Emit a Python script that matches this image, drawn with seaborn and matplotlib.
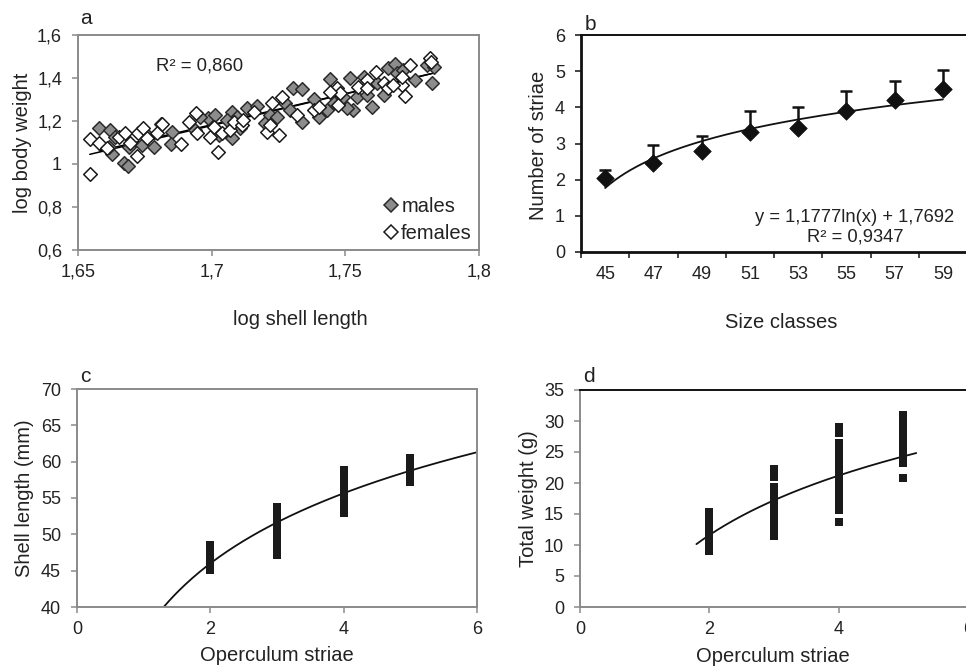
import numpy as np
import pandas as pd
import matplotlib
matplotlib.use("Agg")
import matplotlib.pyplot as plt
from matplotlib.ticker import FuncFormatter, FixedLocator
import seaborn as sns

sns.set_style("ticks")
plt.rcParams['font.family'] = ['Liberation Sans', 'DejaVu Sans']

# ---- panel a: log shell length vs log body weight ----
males_x = [1.6580, 1.6621, 1.6627, 1.6615, 1.6673, 1.6686, 1.6689, 1.6739, 1.6783, 1.6810,
           1.6851, 1.6848, 1.6939, 1.6988, 1.7013, 1.7026, 1.7076, 1.7076, 1.7094, 1.7132,
           1.7169, 1.7200, 1.7219, 1.7244, 1.7275, 1.7306, 1.7337, 1.7337, 1.7381, 1.7400,
           1.7431, 1.7443, 1.7456, 1.7493, 1.7518, 1.7530, 1.7543, 1.7568, 1.7580, 1.7599,
           1.7618, 1.7661, 1.7686, 1.7692, 1.7717, 1.7761, 1.7805, 1.7823, 1.7830, 1.6640,
           1.6758, 1.6957, 1.7057, 1.7294, 1.7643, 1.7506, 1.7107]
males_y = [1.169, 1.158, 1.047, 1.081, 1.003, 0.992, 1.081, 1.088, 1.081, 1.186,
           1.150, 1.091, 1.158, 1.212, 1.228, 1.135, 1.119, 1.243, 1.220, 1.262,
           1.270, 1.189, 1.228, 1.220, 1.282, 1.352, 1.347, 1.197, 1.301, 1.220,
           1.251, 1.395, 1.282, 1.313, 1.398, 1.251, 1.313, 1.406, 1.321, 1.264,
           1.375, 1.445, 1.464, 1.422, 1.437, 1.391, 1.460, 1.375, 1.453, 1.127,
           1.135, 1.220, 1.205, 1.251, 1.321, 1.259, 1.166]
females_x = [1.6544, 1.6544, 1.6577, 1.6608, 1.6652, 1.6677, 1.6696, 1.6721, 1.6724, 1.6745,
             1.6758, 1.6795, 1.6814, 1.6886, 1.6914, 1.6942, 1.6945, 1.6992, 1.7007, 1.7022,
             1.7038, 1.7069, 1.7082, 1.7113, 1.7119, 1.7207, 1.7219, 1.7250, 1.7225, 1.7263,
             1.7319, 1.7381, 1.7400, 1.7468, 1.7474, 1.7481, 1.7549, 1.7580, 1.7580, 1.7615,
             1.7643, 1.7661, 1.7711, 1.7724, 1.7742, 1.7711, 1.7817, 1.7820, 1.7157, 1.7680,
             1.7443]
females_y = [1.115, 0.953, 1.099, 1.073, 1.127, 1.143, 1.096, 1.037, 1.143, 1.166,
             1.119, 1.143, 1.184, 1.093, 1.197, 1.236, 1.143, 1.127, 1.174, 1.057,
             1.146, 1.158, 1.197, 1.181, 1.205, 1.150, 1.181, 1.135, 1.282, 1.313,
             1.228, 1.251, 1.267, 1.352, 1.274, 1.332, 1.360, 1.391, 1.352, 1.429,
             1.375, 1.352, 1.367, 1.316, 1.460, 1.406, 1.491, 1.476, 1.243, 1.367,
             1.336]

# ---- panel b: striae by size class ----
size_classes = ['45', '47', '49', '51', '53', '55', '57', '59']
striae_mean = [2.05, 2.45, 2.80, 3.32, 3.42, 3.90, 4.20, 4.50]
striae_upper = [2.28, 2.95, 3.20, 3.90, 4.02, 4.45, 4.72, 5.02]
b_coef = (1.1777, 1.7692)   # y = a ln(x) + b, from the chart

# ---- panel c: shell length by operculum striae ----
c_striae = [2] * 12 + [3] * 18 + [4] * 16 + [5] * 10
c_length = [45.1, 45.4, 45.7, 46.0, 46.3, 46.6, 46.9, 47.2, 47.5, 47.8, 48.1, 48.5,
            47.1, 47.5, 47.9, 48.3, 48.7, 49.1, 49.5, 49.9, 50.3, 50.7, 51.1, 51.5,
            51.9, 52.3, 52.7, 53.1, 53.5, 53.8,
            52.9, 53.3, 53.7, 54.1, 54.5, 54.9, 55.3, 55.7, 56.1, 56.5, 56.9, 57.3,
            57.7, 58.1, 58.5, 58.9,
            57.2, 57.5, 57.8, 58.1, 59.0, 59.3, 59.6, 59.9, 60.2, 60.5]
c_coef = (13.93, 36.34)

# ---- panel d: total weight by operculum striae ----
d_striae = [2] * 14 + [3] * 20 + [4] * 26 + [5] * 16
d_weight = [9.0, 9.5, 10.0, 10.5, 11.0, 11.5, 12.0, 12.5, 13.0, 13.5, 14.0, 14.5, 15.0, 15.4,
            11.5, 12.0, 12.5, 13.0, 13.5, 14.0, 14.5, 15.0, 15.5, 16.0, 16.5, 17.0, 17.5,
            18.0, 18.5, 19.0, 19.3, 21.0, 21.6, 22.3,
            13.7, 15.6, 16.1, 16.6, 17.1, 17.6, 18.1, 18.6, 19.1, 19.6, 20.1, 20.6, 21.1,
            21.6, 22.1, 22.6, 23.1, 23.6, 24.1, 24.6, 25.1, 25.6, 26.0, 26.4, 28.0, 29.0,
            20.8, 23.3, 23.8, 24.3, 24.8, 25.7, 26.2, 26.7, 27.2, 27.7, 28.2, 28.7, 29.2,
            29.7, 30.3, 30.9]
d_coef = (13.85, 2.0)

GRAY = '#8a8a8a'
TXT = '#222222'
TICK_FS = 13
LAB_FS = 14.5
comma = FuncFormatter(lambda v, p: '{:g}'.format(round(v, 4)).replace('.', ','))

fig = plt.figure(figsize=(9.66, 6.70), dpi=100)
W, H = 966, 670


def place(l, r, t, b):
    return fig.add_axes([l / W, (H - b) / H, (r - l) / W, (b - t) / H])


def style(ax, left_col, bottom_col, top_col, right_col):
    for s, c in zip(['left', 'bottom', 'top', 'right'], [left_col, bottom_col, top_col, right_col]):
        if c is None:
            ax.spines[s].set_visible(False)
        else:
            ax.spines[s].set_visible(True)
            ax.spines[s].set_color(c)
            ax.spines[s].set_linewidth(1.4)
    ax.tick_params(axis='x', direction='out', length=4.5, width=1.1, color=bottom_col,
                   pad=5.5, labelsize=TICK_FS, labelcolor=TXT)
    ax.tick_params(axis='y', direction='out', length=4.5, width=1.1, color=left_col,
                   pad=7, labelsize=TICK_FS, labelcolor=TXT)


# panel a
ax = place(78, 479, 35, 250)
dm = pd.DataFrame({'x': males_x, 'y': males_y})
df = pd.DataFrame({'x': females_x, 'y': females_y})
sns.regplot(data=dm, x='x', y='y', scatter=False, ci=None, color='black',
            line_kws={'lw': 1.1}, ax=ax)
sns.regplot(data=df, x='x', y='y', scatter=False, ci=None, color='black',
            line_kws={'lw': 1.1}, ax=ax)
sns.scatterplot(data=dm, x='x', y='y', marker='D', s=48, color='#8c8c8c',
                edgecolor='#2b2b2b', linewidth=1.1, ax=ax, zorder=3)
sns.scatterplot(data=df, x='x', y='y', marker='D', s=48, color='white',
                edgecolor='#1a1a1a', linewidth=1.1, ax=ax, zorder=3)
ax.set_xlim(1.65, 1.8)
ax.set_ylim(0.6, 1.6)
ax.xaxis.set_major_locator(FixedLocator([1.65, 1.7, 1.75, 1.8]))
ax.yaxis.set_major_locator(FixedLocator([0.6, 0.8, 1.0, 1.2, 1.4, 1.6]))
ax.xaxis.set_major_formatter(comma)
ax.yaxis.set_major_formatter(comma)
style(ax, GRAY, GRAY, GRAY, GRAY)
ax.set_xlabel('log shell length', fontsize=LAB_FS, color=TXT)
ax.set_ylabel('log body weight', fontsize=LAB_FS, color=TXT)
ax.xaxis.set_label_coords(0.554, -0.28)
ax.yaxis.set_label_coords(-0.115, 0.5)
ax.text(0.304, 0.856, 'R² = 0,860', transform=ax.transAxes, ha='center', va='center',
        fontsize=13.3, color=TXT)
hm = plt.Line2D([], [], ls='none', marker='D', ms=7, mfc='#8c8c8c', mec='#2b2b2b', mew=1.1)
hf = plt.Line2D([], [], ls='none', marker='D', ms=7, mfc='white', mec='#1a1a1a', mew=1.1)
ax.legend([hm, hf], ['males', 'females'], loc='lower right', frameon=False, fontsize=LAB_FS,
          handletextpad=0.05, handlelength=0.9, labelspacing=0.4, borderaxespad=0.15,
          borderpad=0.2, labelcolor=TXT)

# panel b
ax = place(581, 967, 35, 252)
pos = np.arange(len(size_classes))
ax.errorbar(pos, striae_mean,
            yerr=[np.zeros(len(pos)), np.array(striae_upper) - np.array(striae_mean)],
            fmt='none', ecolor='#111111', elinewidth=1.8, capsize=4.5, capthick=1.8, zorder=2)
xs = np.linspace(1, len(size_classes), 200)
sns.lineplot(x=xs - 1, y=b_coef[0] * np.log(xs) + b_coef[1], color='#111111', lw=1.3, ax=ax)
sns.scatterplot(x=pos, y=striae_mean, marker='D', s=80, color='#111111', edgecolor='#111111',
                linewidth=0.5, ax=ax, zorder=3)
ax.set_xlim(-0.5, len(size_classes) - 0.5)
ax.set_ylim(0, 6)
ax.set_xticks(pos)
ax.set_xticklabels(size_classes)
ax.set_xticks(np.arange(-0.5, len(size_classes), 1.0), minor=True)
ax.set_yticks(range(0, 7))
style(ax, '#111111', '#111111', '#111111', None)
ax.spines['left'].set_linewidth(2.0)
ax.spines['bottom'].set_linewidth(2.0)
ax.tick_params(axis='x', which='major', length=0, pad=10)
ax.tick_params(axis='x', which='minor', direction='out', length=4.5, width=1.1, color='#111111')
ax.set_xlabel('Size classes', fontsize=LAB_FS, color=TXT)
ax.set_ylabel('Number of striae', fontsize=LAB_FS, color=TXT)
ax.xaxis.set_label_coords(0.518, -0.28)
ax.yaxis.set_label_coords(-0.085, 0.493)
ax.text(0.71, 0.161, 'y = 1,1777ln(x) + 1,7692', transform=ax.transAxes, ha='center',
        va='center', fontsize=13.2, color=TXT)
ax.text(0.71, 0.069, 'R² = 0,9347', transform=ax.transAxes, ha='center', va='center',
        fontsize=13.2, color=TXT)

# panel c
ax = place(77, 477, 389, 607)
xc = np.linspace(1.0, 6.0, 200)
sns.lineplot(x=xc, y=c_coef[0] * np.log(xc) + c_coef[1], color='#111111', lw=1.3, ax=ax)
sns.scatterplot(x=c_striae, y=c_length, marker='s', s=30, color='#1a1a1a', linewidth=0,
                ax=ax, zorder=3)
ax.set_xlim(0, 6)
ax.set_ylim(40, 70)
ax.set_xticks([0, 2, 4, 6])
ax.set_yticks(range(40, 71, 5))
style(ax, GRAY, GRAY, GRAY, GRAY)
ax.set_xlabel('Operculum striae', fontsize=LAB_FS, color=TXT)
ax.set_ylabel('Shell length (mm)', fontsize=LAB_FS, color=TXT)
ax.xaxis.set_label_coords(0.5, -0.18)
ax.yaxis.set_label_coords(-0.108, 0.5)

# panel d
ax = place(580, 968, 390, 607)
xd = np.linspace(1.8, 5.2, 200)
sns.lineplot(x=xd, y=d_coef[0] * np.log(xd) + d_coef[1], color='#111111', lw=1.3, ax=ax)
sns.scatterplot(x=d_striae, y=d_weight, marker='s', s=26, color='#1a1a1a', linewidth=0,
                ax=ax, zorder=3)
ax.set_xlim(0, 6)
ax.set_ylim(0, 35)
ax.set_xticks([0, 2, 4, 6])
ax.set_yticks(range(0, 36, 5))
style(ax, GRAY, GRAY, '#111111', None)
ax.set_xlabel('Operculum striae', fontsize=LAB_FS, color=TXT)
ax.set_ylabel('Total weight (g)', fontsize=LAB_FS, color=TXT)
ax.xaxis.set_label_coords(0.497, -0.185)
ax.yaxis.set_label_coords(-0.108, 0.5)

for letter, px, py in [('a', 86, 18), ('b', 590, 24), ('c', 85, 377), ('d', 589, 376)]:
    fig.text(px / W, (H - py) / H, letter, fontsize=15, color=TXT, ha='center', va='center')

fig.savefig('out.png', dpi=100)
plt.close('all')
